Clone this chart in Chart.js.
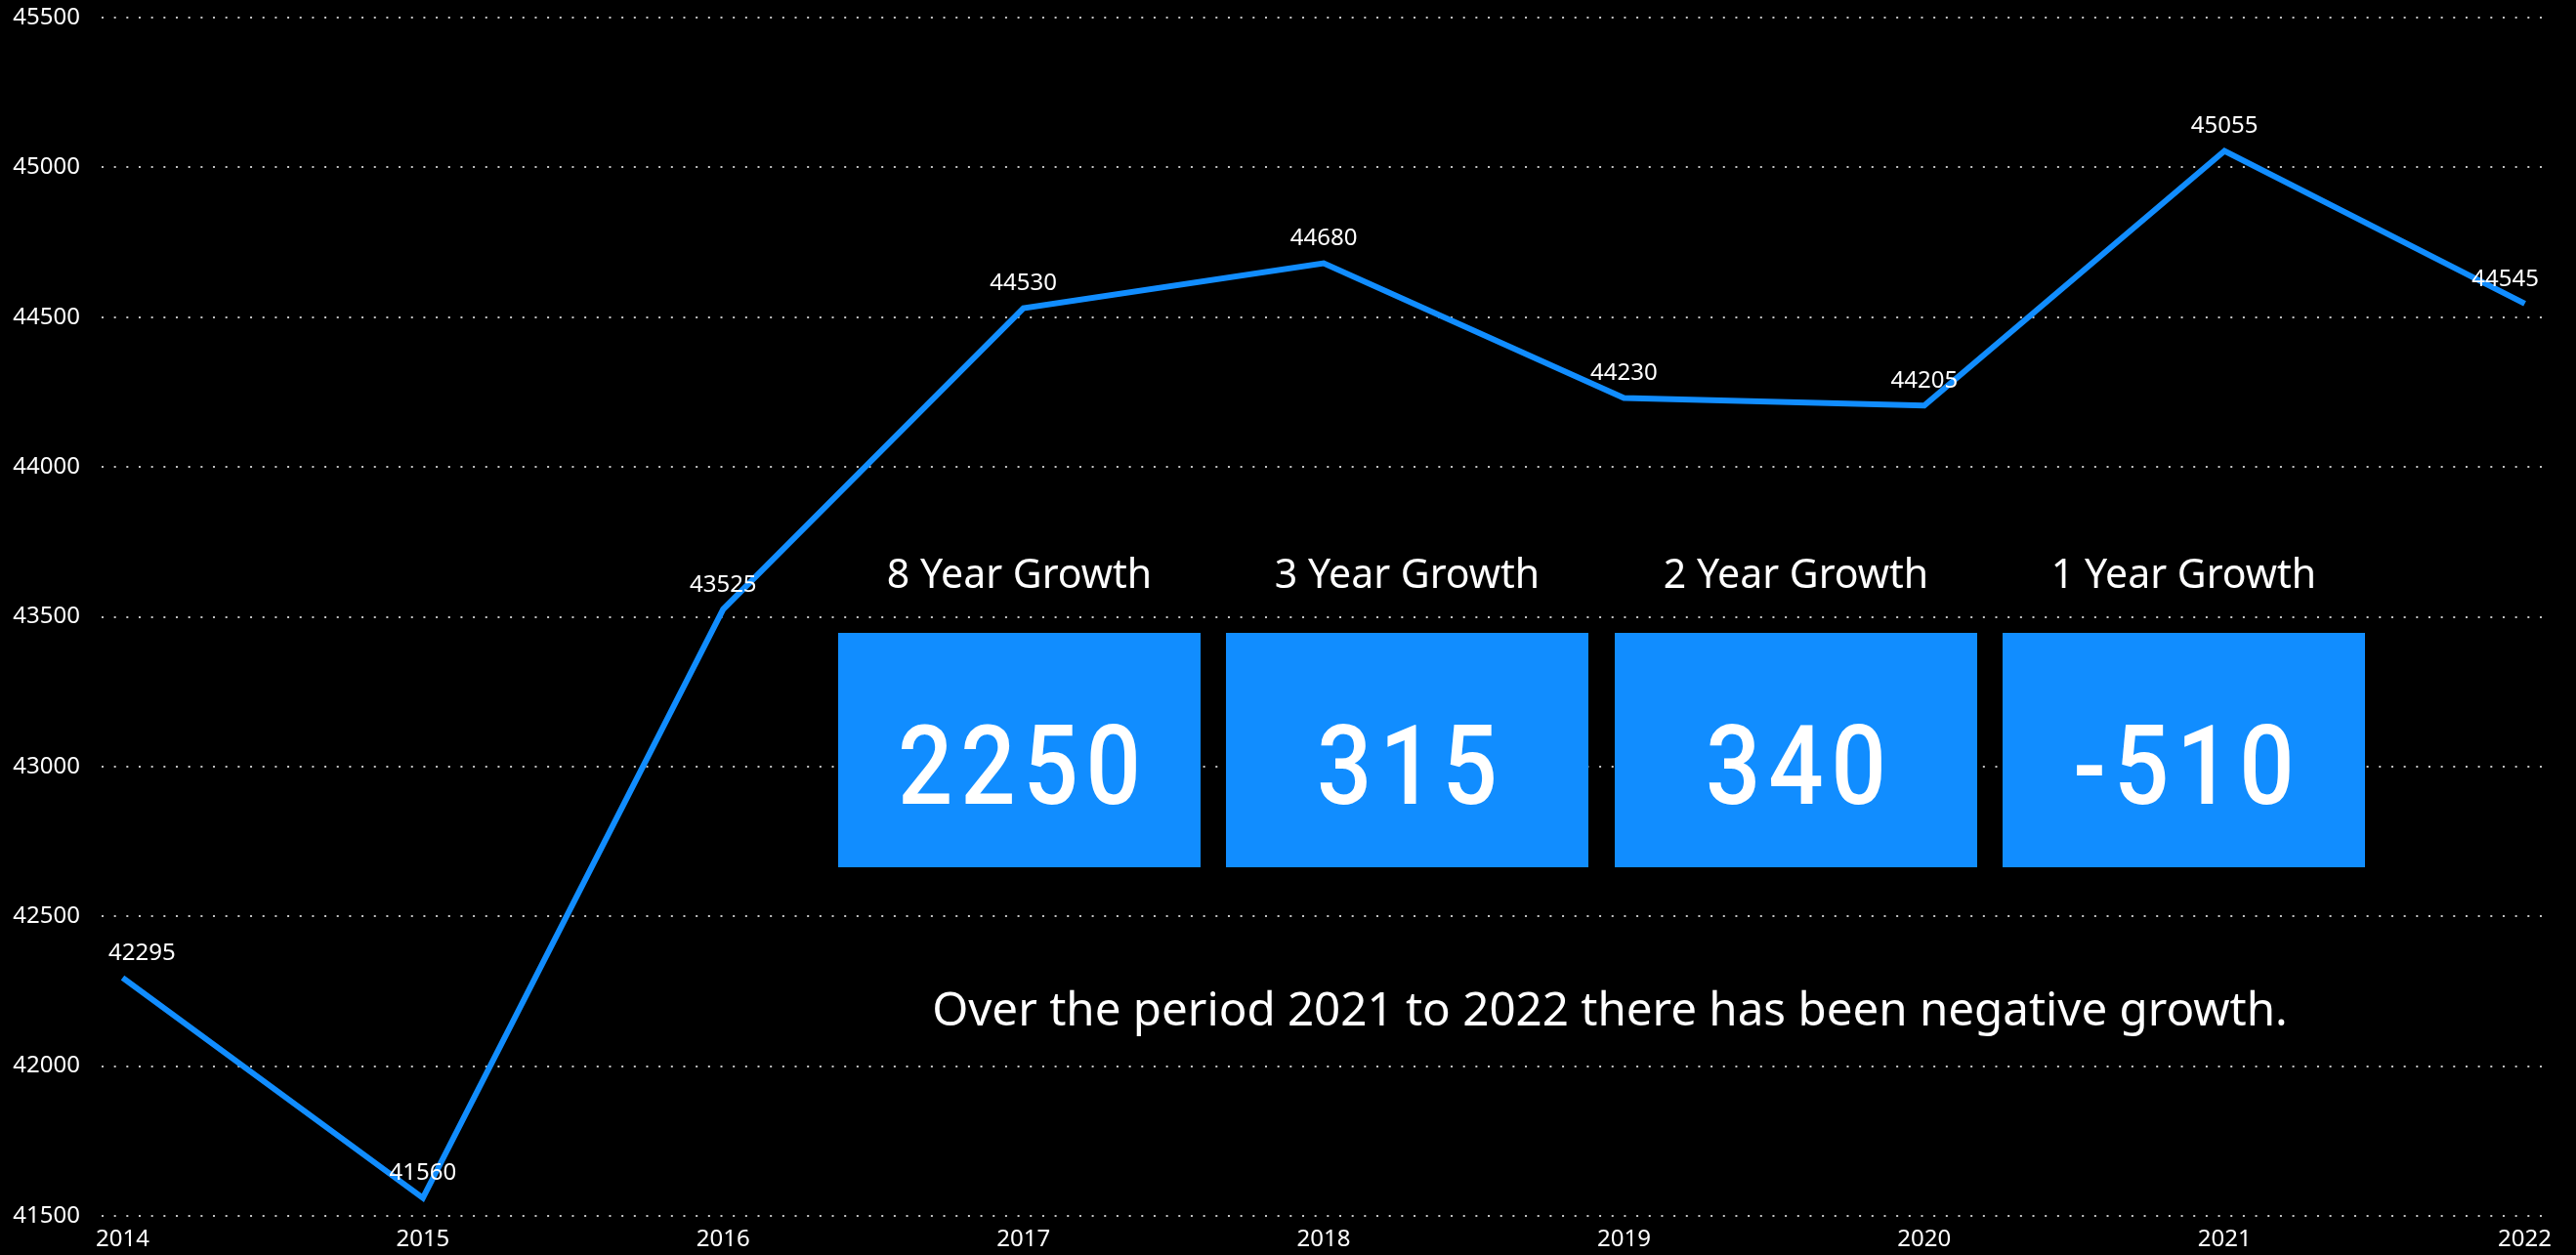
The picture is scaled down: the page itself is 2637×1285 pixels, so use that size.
<!DOCTYPE html>
<html>
<head>
<meta charset="utf-8">
<title>Growth</title>
<script src="https://cdn.jsdelivr.net/npm/chart.js@4.4.1/dist/chart.umd.min.js"></script>
<style>
  html, body { margin: 0; padding: 0; background: #000; }
  #wrap { position: relative; width: 2637px; height: 1285px; overflow: hidden; background: #000; }
  #myChart { position: absolute; left: 0; top: 0; }
  .card-title {
    position: absolute; top: 566px; width: 371px; text-align: center;
    color: #fff; font-family: "Noto Sans", sans-serif; font-size: 41px; line-height: 41px;
    white-space: nowrap;
  }
  .card {
    position: absolute; top: 648px; width: 371px; height: 240px; background: #118DFF;
  }
  .card-value {
    position: absolute; left: 0; right: 0; top: 79px; text-align: center;
    color: #fff; font-family: Roboto, sans-serif; font-weight: 500;
    font-size: 114px; line-height: 114px; white-space: nowrap;
    letter-spacing: 9px; text-indent: 9px;
    transform: scaleX(0.87); transform-origin: 50% 50%;
  }
  #nota {
    position: absolute; left: 867px; width: 1562px; top: 1008px; text-align: center;
    color: #fff; font-family: "Noto Sans", sans-serif; font-size: 47.5px; line-height: 47px;
    white-space: nowrap;
  }
</style>
</head>
<body>
<div id="wrap">
  <canvas id="myChart" width="2637" height="1285"></canvas>
  <div id="cards"></div>
  <div id="nota">Over the period 2021 to 2022 there has been negative growth.</div>
</div>
<script>
// datos
const anios = [2014, 2015, 2016, 2017, 2018, 2019, 2020, 2021, 2022];
const valores = [42295, 41560, 43525, 44530, 44680, 44230, 44205, 45055, 44545];
const ticksY = [41500, 42000, 42500, 43000, 43500, 44000, 44500, 45000, 45500];
const tarjetasTitulo = ['8 Year Growth', '3 Year Growth', '2 Year Growth', '1 Year Growth'];
const tarjetasValor = [2250, 315, 340, -510];

const fuente = '"Noto Sans", sans-serif';
const azul = '#118DFF';

// tarjetas
const cards = document.getElementById('cards');
tarjetasTitulo.forEach((titulo, i) => {
    const left = Math.round(858 + i * 397.3);
    const t = document.createElement('div');
    t.className = 'card-title';
    t.style.left = left + 'px';
    t.textContent = titulo;
    cards.appendChild(t);

    const c = document.createElement('div');
    c.className = 'card';
    c.style.left = left + 'px';
    const v = document.createElement('div');
    v.className = 'card-value';
    v.textContent = tarjetasValor[i];
    c.appendChild(v);
    cards.appendChild(c);
});

// etiquetas de datos encima de cada punto
const etiquetasPlugin = {
    id: 'etiquetas',
    afterDatasetsDraw(chart) {
        const ctx = chart.ctx;
        const area = chart.chartArea;
        const meta = chart.getDatasetMeta(0);
        ctx.save();
        ctx.font = '24px ' + fuente;
        ctx.fillStyle = '#ffffff';
        ctx.textAlign = 'center';
        ctx.textBaseline = 'middle';
        meta.data.forEach((p, i) => {
            const txt = String(valores[i]);
            const w = ctx.measureText(txt).width;
            let x = p.x;
            x = Math.max(x, area.left + 7 + w / 2);
            x = Math.min(x, area.right - 4 - w / 2);
            ctx.fillText(txt, x, p.y - 25);
        });
        ctx.restore();
    }
};

const config = {
    type: 'line',
    data: {
        datasets: [{
            label: 'Valor',
            data: anios.map((a, i) => ({ x: a, y: valores[i] })),
            borderColor: azul,
            borderWidth: 6,
            pointRadius: 0,
            fill: false,
            tension: 0
        }]
    },
    options: {
        responsive: false,
        animation: false,
        layout: { padding: { top: 18, right: 34, left: 0, bottom: 0 } },
        plugins: {
            legend: { display: false },
            tooltip: { enabled: false }
        },
        scales: {
            x: {
                type: 'linear',
                min: 2013.93,
                max: 2022.06,
                afterBuildTicks: (scale) => { scale.ticks = anios.map(a => ({ value: a })); },
                afterFit: (scale) => { scale.height = 40; scale.paddingLeft = 0; scale.paddingRight = 0; },
                grid: { display: false, drawTicks: false },
                border: { display: false },
                ticks: {
                    color: '#ffffff',
                    font: { family: fuente, size: 24 },
                    padding: 10,
                    maxRotation: 0,
                    autoSkip: false,
                    callback: (v) => String(v)
                }
            },
            y: {
                min: ticksY[0],
                max: ticksY[ticksY.length - 1],
                afterBuildTicks: (scale) => { scale.ticks = ticksY.map(v => ({ value: v })); },
                afterFit: (scale) => { scale.width = 104; scale.paddingTop = 0; scale.paddingBottom = 0; },
                grid: {
                    color: 'rgba(205,205,205,0.95)',
                    lineWidth: 2,
                    drawTicks: false
                },
                border: { display: false, dash: [2, 10.67] },
                ticks: {
                    color: '#ffffff',
                    font: { family: fuente, size: 24 },
                    padding: 22,
                    callback: (v) => String(v)
                }
            }
        }
    },
    plugins: [etiquetasPlugin]
};

const ctx = document.getElementById('myChart').getContext('2d');
new Chart(ctx, config);
</script>
</body>
</html>
